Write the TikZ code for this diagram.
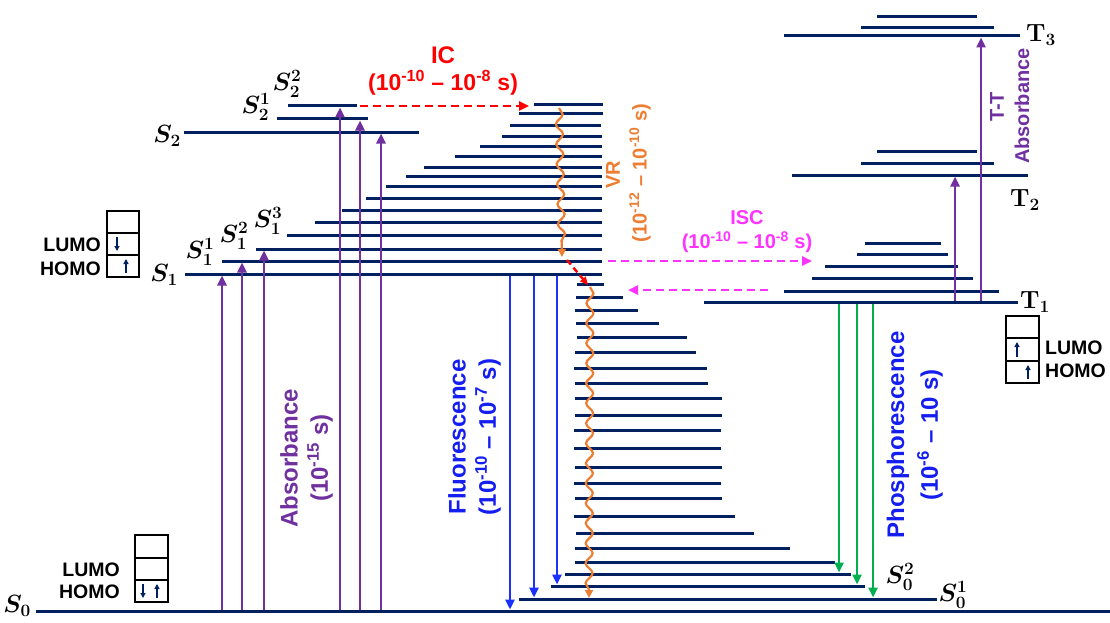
\documentclass[tikz,border=0pt]{standalone}
\usepackage{amsmath}
\usepackage[no-math]{fontspec}
\setmainfont{Liberation Sans}
\usetikzlibrary{arrows.meta,decorations.pathmorphing}
\definecolor{navy}{RGB}{0,32,96}
\definecolor{vio}{RGB}{112,48,160}
\definecolor{fblue}{RGB}{25,50,255}
\definecolor{tblue}{RGB}{20,30,240}
\definecolor{pgreen}{RGB}{0,176,80}
\definecolor{orng}{RGB}{237,125,49}
\definecolor{mag}{RGB}{255,51,255}
\definecolor{icred}{RGB}{255,0,0}
\begin{document}
\begin{tikzpicture}[x=1pt,y=-1pt,
  lvl/.style={navy,line width=3pt},
  tip/.style={-{Triangle[length=10pt,width=9pt]}},
  absarr/.style={vio,line width=2.4pt,tip},
  fluarr/.style={fblue,line width=2.4pt,tip},
  phoarr/.style={pgreen,line width=2.4pt,tip},
  dasharr/.style={line width=2.4pt,dash pattern=on 8pt off 5pt,tip},
  wavy/.style={orng,line width=2.2pt,decorate,
     decoration={snake,amplitude=3.5pt,segment length=20pt,post length=8pt},
     -{Triangle[length=8pt,width=8pt]}},
  lab/.style={inner sep=0pt,font=\bfseries\fontsize{24}{24}\selectfont},
  labs/.style={inner sep=0pt,font=\bfseries\fontsize{20}{20}\selectfont},
  orb/.style={inner sep=0pt,font=\bfseries\fontsize{19.5}{19.5}\selectfont},
  stl/.style={inner sep=0pt,font=\boldmath\fontsize{27}{27}\selectfont},
  box/.style={draw=black,line width=2pt},
  spin/.style={navy,line width=2pt,-{Triangle[length=5pt,width=5pt]}}]
\useasboundingbox (0,0) rectangle (1110,623);

% ---------- singlet S1 / S2 manifold ----------
\foreach \y/\a/\b in {274/185/602,261/222/602,249/256/602,235/287/602,222/315/602,
  210/342/602,198/366/602,186/386/602,176/406/602,167/424/602,156/455/602,
  146/480/602,136/502/602,126/510/601,114/519/603,105/534/603,
  132/184/419,119/277/368,106/288/357}
  \draw[lvl] (\a,\y) -- (\b,\y);

% ---------- S0 manifold ----------
\foreach \y/\a/\b in {284/577/604,297/576/623,310/575/638,323/576/659,337/577/687,
  352/575/696,368/574/707,383/575/708,398/575/722,415/575/722,430/574/721,
  448/574/721,467/575/722,483/574/721,498/575/722,516/574/735,533/576/754,
  548/575/790,562/575/835,574/565/851,586/551/865,599/519/937,611/36/1110}
  \draw[lvl] (\a,\y) -- (\b,\y);

% ---------- triplet manifold ----------
\foreach \y/\a/\b in {302/704/1018,291/784/999,278/812/973,266/825/958,254/857/948,
  243/865/941,175/792/1028,163/861/994,151/877/977,36/784/1020,28/861/994,17/877/977}
  \draw[lvl] (\a,\y) -- (\b,\y);

% ---------- absorbance ----------
\foreach \x/\y in {222/275.5,242/262.5,264/250.5,340/107.5,360/120.5,381/133.5}
  \draw[absarr] (\x,609.5) -- (\x,\y);
\node[lab,vio,rotate=90] (absA) at (289,458) {Absorbance};
\node[lab,vio,rotate=90] (absB) at (320,458) {(10\textsuperscript{-15} s)};

% ---------- fluorescence ----------
\foreach \x/\y in {510/609.5,534/597.5,557/584.5}
  \draw[fluarr] (\x,275.5) -- (\x,\y);
\node[lab,tblue,rotate=90] (fluA) at (457,437) {Fluorescence};
\node[lab,tblue,rotate=90] (fluB) at (488,437) {(10\textsuperscript{-10} -- 10\textsuperscript{-7} s)};

% ---------- phosphorescence ----------
\foreach \x/\y in {839/572.5,857/584.5,873/597.5}
  \draw[phoarr] (\x,303.5) -- (\x,\y);
\node[lab,tblue,rotate=90] (phoA) at (898,435) {Phosphorescence};
\node[lab,tblue,rotate=90] (phoB) at (930,435) {(10\textsuperscript{-6} -- 10 s)};

% ---------- T-T absorbance ----------
\draw[absarr] (955,300.5) -- (955,176.5);
\draw[absarr] (981,300.5) -- (981,37.5);
\node[labs,vio,rotate=90] (ttA) at (997,107) {T-T};
\node[labs,vio,rotate=90] (ttB) at (1022,106) {Absorbance};

% ---------- IC ----------
\draw[dasharr,icred] (360,106) -- (529,106);
\node[lab,icred] (icA) at (443,55) {IC};
\node[lab,icred,font=\bfseries\fontsize{23}{23}\selectfont] (icB) at (443,83) {(10\textsuperscript{-10} -- 10\textsuperscript{-8} s)};

% ---------- VR ----------
\draw[wavy] (559,108) -- (562,257);
\draw[dasharr,icred,dash pattern=on 6pt off 4pt,-{Triangle[length=8pt,width=7pt]}] (567,260) -- (588,285);
\draw[wavy] (590,287) -- (589,598);
\node[labs,orng,rotate=90] (vrA) at (613,175) {VR};
\node[labs,orng,rotate=90] (vrB) at (640,173) {(10\textsuperscript{-12} -- 10\textsuperscript{-10} s)};

% ---------- ISC ----------
\draw[dasharr,mag] (608,261) -- (812,261);
\draw[dasharr,mag] (768,290) -- (628,290);
\node[labs,mag] (iscA) at (747,218) {ISC};
\node[labs,mag] (iscB) at (747,242) {(10\textsuperscript{-10} -- 10\textsuperscript{-8} s)};

% ---------- state labels ----------
\node[stl] (s2) at (167,136) {$S_2$};
\node[stl] (s21) at (256,107) {$S_2^1$};
\node[stl] (s22) at (287,84) {$S_2^2$};
\node[stl] (s1) at (164,275) {$S_1$};
\node[stl] (s11) at (200,252) {$S_1^1$};
\node[stl] (s12) at (234,236) {$S_1^2$};
\node[stl] (s13) at (268,221) {$S_1^3$};
\node[stl] (s0) at (17,606) {$S_0$};
\node[stl] (s02) at (900,577) {$S_0^2$};
\node[stl] (s01) at (953,595) {$S_0^1$};
\node[stl] (t3) at (1041,35) {$\mathrm{T}_3$};
\node[stl] (t2) at (1025,200) {$\mathrm{T}_2$};
\node[stl] (t1) at (1035,302) {$\mathrm{T}_1$};

% ---------- orbital boxes ----------
% S1
\draw[box] (107,211) rectangle (139,277);
\draw[box] (107,233) -- (139,233) (107,255) -- (139,255);
\draw[spin] (117,237) -- (117,251);
\draw[spin] (126,273) -- (126,259);
\node[orb,anchor=east] (l1) at (101,245) {LUMO};
\node[orb,anchor=east] (h1) at (101,269) {HOMO};
% S0
\draw[box] (135,535) rectangle (168,602);
\draw[box] (135,558) -- (168,558) (135,580) -- (168,580);
\draw[spin] (143,584) -- (143,598);
\draw[spin] (157,598) -- (157,584);
\node[orb,anchor=east] (l0) at (120,570) {LUMO};
\node[orb,anchor=east] (h0) at (120,592) {HOMO};
% T1
\draw[box] (1006,316) rectangle (1039,383);
\draw[box] (1006,338) -- (1039,338) (1006,361) -- (1039,361);
\draw[spin] (1017,357) -- (1017,342);
\draw[spin] (1028,379) -- (1028,365);
\node[orb,anchor=west] (lt) at (1045,348) {LUMO};
\node[orb,anchor=west] (ht) at (1045,371) {HOMO};
\end{tikzpicture}
\end{document}
